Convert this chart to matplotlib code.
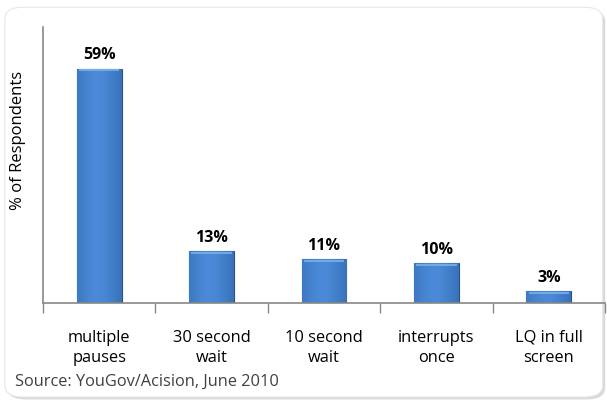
import matplotlib
matplotlib.use("Agg")
import matplotlib.pyplot as plt
import numpy as np
from matplotlib.patches import FancyBboxPatch

categories = ["multiple\npauses", "30 second\nwait", "10 second\nwait", "interrupts\nonce", "LQ in full\nscreen"]
values = [59, 13, 11, 10, 3]
labels = ["59%", "13%", "11%", "10%", "3%"]

plt.rcParams["font.family"] = ["Open Sans", "DejaVu Sans"]

fig = plt.figure(figsize=(6.07, 4.01), dpi=100)

# rounded frame with a soft shadow
fig.patches.append(FancyBboxPatch((0.012, 0.004), 0.985, 0.972, boxstyle="round,pad=0,rounding_size=0.03",
                                  transform=fig.transFigure, fc="#d9d9d9", ec="none", zorder=-2))
fig.patches.append(FancyBboxPatch((0.008, 0.01), 0.985, 0.972, boxstyle="round,pad=0,rounding_size=0.03",
                                  transform=fig.transFigure, fc="white", ec="#e6e6e6", lw=0.8, zorder=-1))

ax = fig.add_axes([0.0708, 0.2444, 0.926, 0.688])
ax.set_zorder(2)
ax.patch.set_alpha(0)
x = np.arange(len(values))
bars = ax.bar(x, values, width=0.4, color="#3b78c6", edgecolor="#23528f", linewidth=0.8, zorder=2)

# horizontal shading on each bar
grad = np.linspace(0, 1, 64)
shade = 1 - 0.55 * np.abs(grad - 0.45) ** 1.6
cmap = matplotlib.colors.LinearSegmentedColormap.from_list("b", ["#1d4a86", "#4a8ad8"])
for b in bars:
    x0, w, h = b.get_x(), b.get_width(), b.get_height()
    im = ax.imshow(shade[None, :], cmap=cmap, vmin=0.45, vmax=1, aspect="auto",
                   extent=(x0, x0 + w, 0, h), zorder=2.5)
    im.set_clip_path(b)
    ax.plot([x0 + 0.02, x0 + w - 0.02], [h - 0.4, h - 0.4], color="#7fb0ea", lw=1.2, zorder=3,
            solid_capstyle="butt")

for xi, v, lab in zip(x, values, labels):
    ax.text(xi, v + 1.4, lab, ha="center", va="bottom", fontsize=11.5, fontweight="bold", color="black")

ax.set_xlim(-0.5, len(values) - 0.5)
ax.set_ylim(0, 69.5)
ax.set_yticks([])
ax.set_xticks(np.arange(len(values) + 1) - 0.5, minor=False)
ax.set_xticklabels([])
ax.tick_params(axis="x", direction="out", length=7, color="#888888", width=1)
for xi, cat in zip(x, categories):
    ax.text(xi, -6.8, cat, ha="center", va="top", fontsize=11.8, color="black", linespacing=1.3)

for s in ["top", "right"]:
    ax.spines[s].set_visible(False)
ax.spines["left"].set_color("#888888")
ax.spines["bottom"].set_color("#888888")
ax.spines["left"].set_linewidth(1.2)
ax.spines["bottom"].set_linewidth(1.2)

fig.text(0.03, 0.65, "% of Respondents", rotation=90, ha="center", va="center", fontsize=12)
fig.text(0.025, 0.047, "Source: YouGov/Acision, June 2010", ha="left", va="center", fontsize=11.8,
         color="#404040")

fig.savefig("out.png", dpi=100)
